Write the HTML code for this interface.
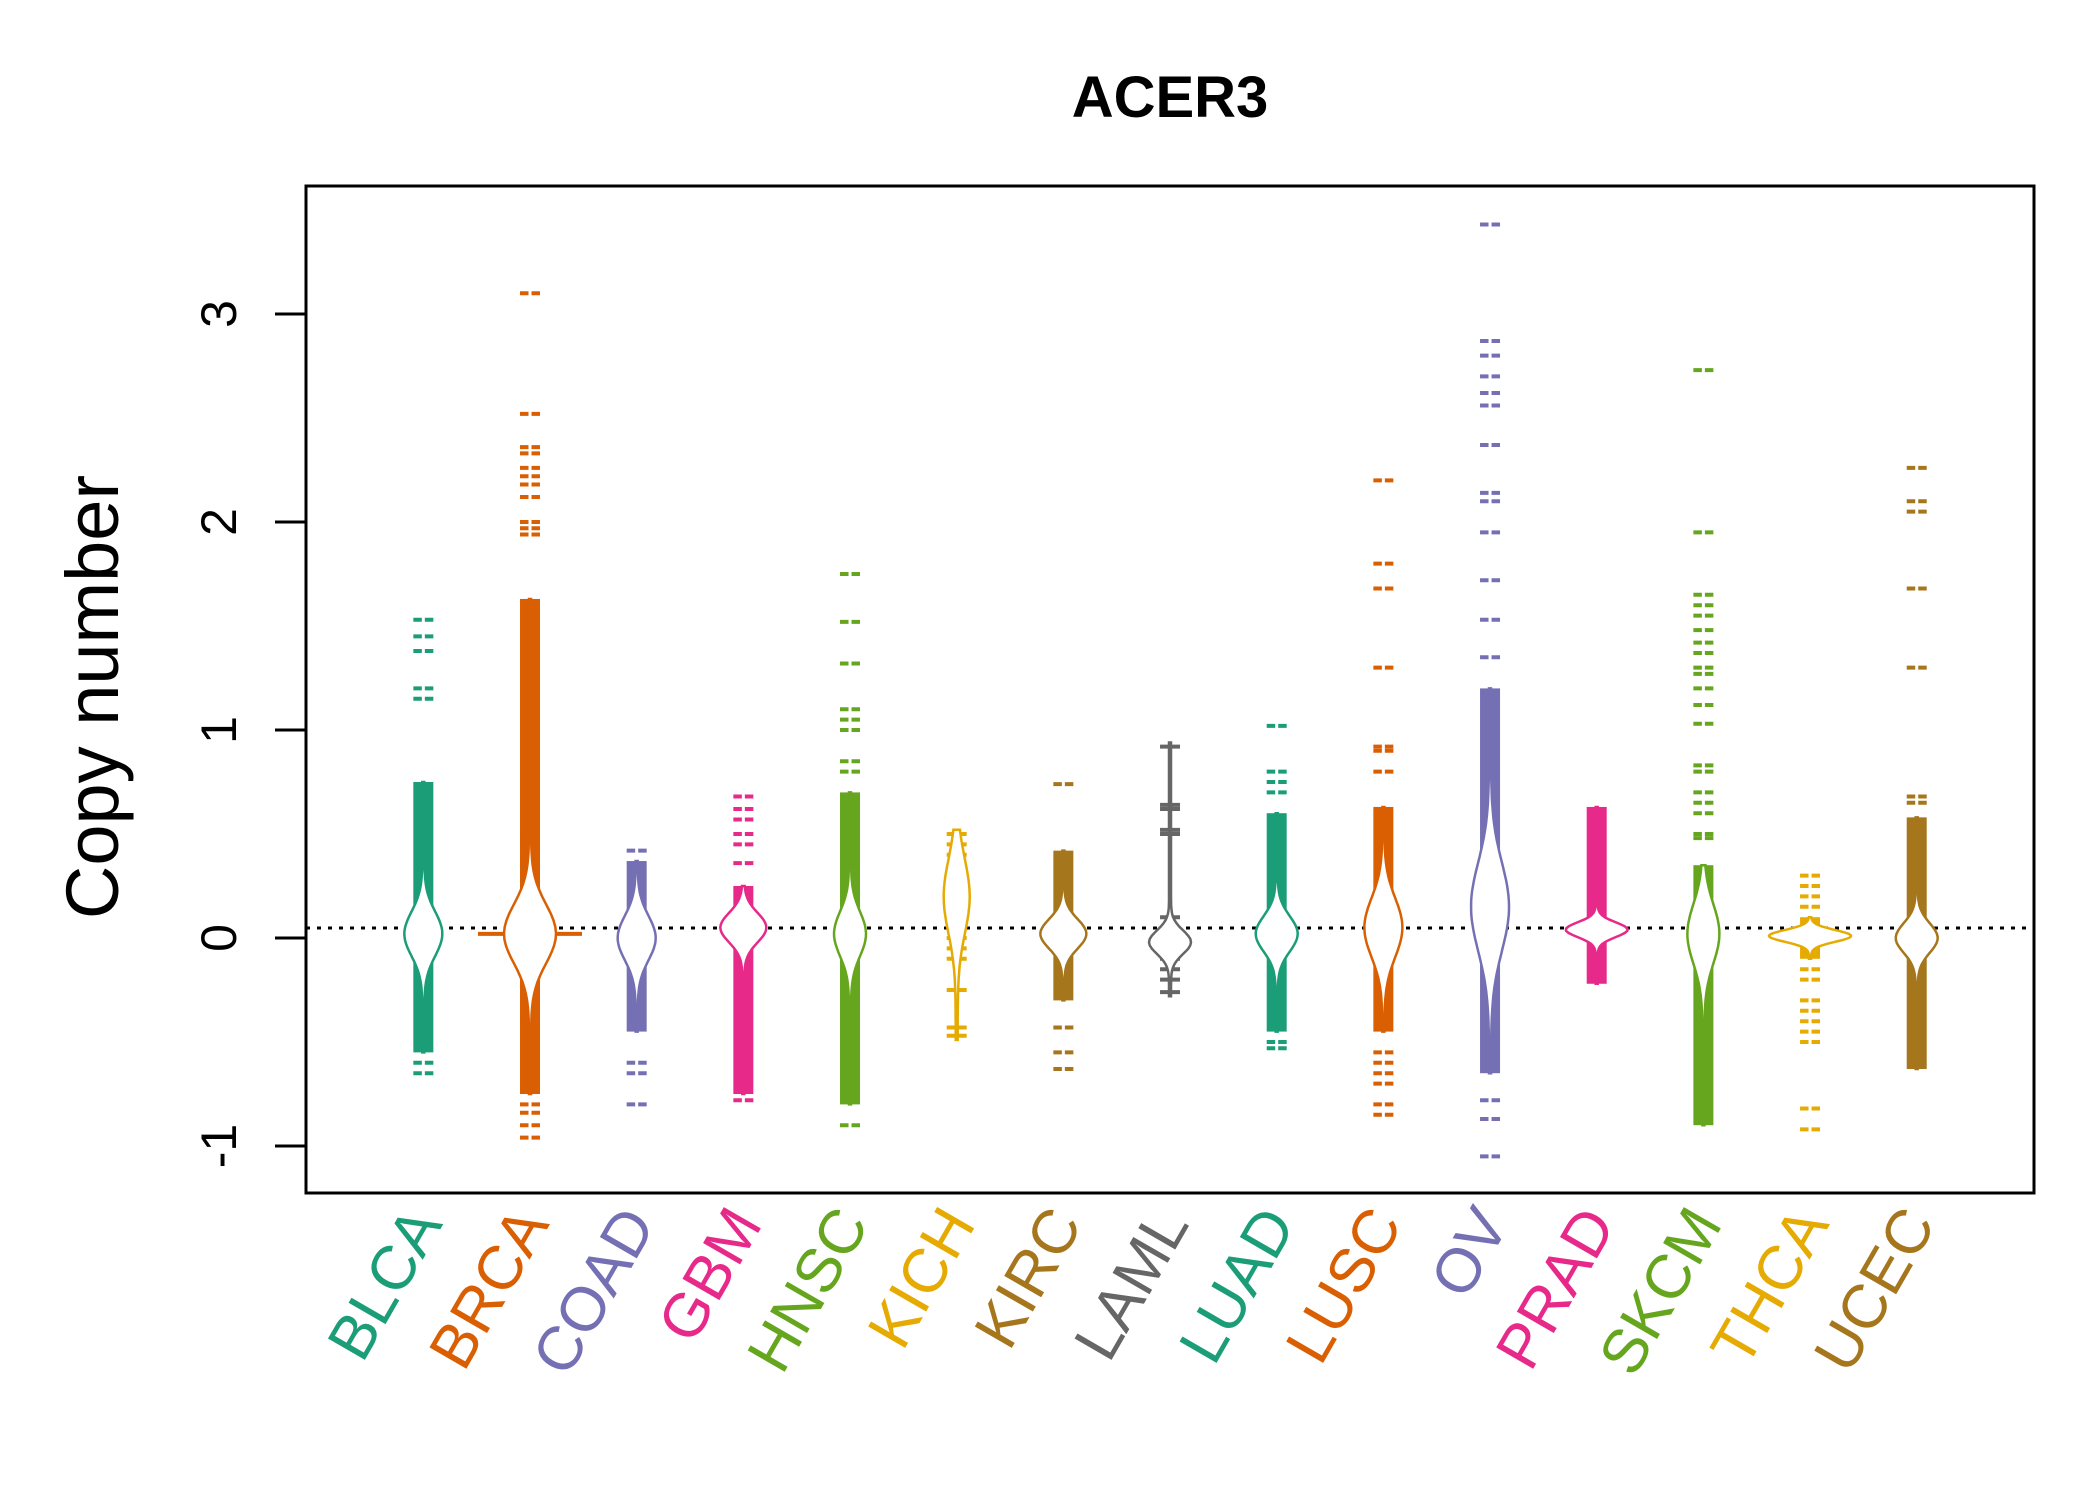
<!DOCTYPE html>
<html><head><meta charset="utf-8"><style>
html,body{margin:0;padding:0;background:#fff;}
svg{display:block;}
text{font-family:"Liberation Sans",Arial,sans-serif;}
</style></head><body>
<svg id="chart" width="2100" height="1500" viewBox="0 0 2100 1500">
<text x="1170" y="117" font-size="58" font-weight="bold" text-anchor="middle">ACER3</text>
<text transform="translate(118,697) rotate(-90)" font-size="74" text-anchor="middle">Copy number</text>
<g id="plot"></g>
<rect x="306" y="186" width="1728" height="1007" fill="none" stroke="#000" stroke-width="3"/>
</svg>
<script>
const categories = ["BLCA","BRCA","COAD","GBM","HNSC","KICH","KIRC","LAML","LUAD","LUSC","OV","PRAD","SKCM","THCA","UCEC"];
const colors = ["#1B9E77","#D95F02","#7570B3","#E7298A","#66A61E","#E6AB02","#A6761D","#666666","#1B9E77","#D95F02","#7570B3","#E7298A","#66A61E","#E6AB02","#A6761D"];
const bandLo = [-0.55,-0.75,-0.45,-0.75,-0.80,0,-0.30,0,-0.45,-0.45,-0.65,-0.22,-0.90,-0.10,-0.63];
const bandHi = [0.75,1.63,0.37,0.25,0.70,0,0.42,0,0.60,0.63,1.20,0.63,0.35,0.10,0.58];
const centers = [0.02,0.02,0.0,0.05,0.02,0.2,0.02,-0.02,0.02,0.05,0.15,0.04,0.02,0.01,0.0];
const spreads = [0.15,0.2,0.15,0.1,0.15,0.25,0.1,0.08,0.12,0.2,0.3,0.05,0.2,0.04,0.1];
const maxWidths = [18,25,18,22,15,12,22,20,20,18,18,30,15,40,20];
const medianLines = [0,52,0,0,0,0,0,0,0,0,0,0,0,0,0];
const points = [
 [1.53,1.45,1.38,1.2,1.15,-0.6,-0.65],
 [3.1,2.52,2.36,2.33,2.26,2.22,2.18,2.12,2.0,1.97,1.94,-0.8,-0.84,-0.9,-0.96],
 [0.42,-0.6,-0.65,-0.8],
 [0.68,0.62,0.57,0.5,0.45,0.36,-0.78],
 [1.75,1.52,1.32,1.1,1.05,1.0,0.85,0.8,-0.9],
 [0.5,0.45,0.4,0.3,0.15,0.1,0.05,0.0,-0.05,-0.1,-0.25,-0.43,-0.47],
 [0.74,-0.43,-0.55,-0.63],
 [0.92,0.64,0.62,0.52,0.5,0.1,0.05,-0.1,-0.15,-0.2,-0.26],
 [1.02,0.8,0.75,0.7,-0.5,-0.53],
 [2.2,1.8,1.68,1.3,0.92,0.9,0.8,-0.55,-0.6,-0.65,-0.7,-0.8,-0.85],
 [3.43,2.87,2.8,2.7,2.62,2.56,2.37,2.14,2.1,1.95,1.72,1.53,1.35,-0.78,-0.87,-1.05],
 [],
 [2.73,1.95,1.65,1.6,1.55,1.48,1.42,1.37,1.3,1.27,1.2,1.12,1.03,0.83,0.8,0.7,0.65,0.6,0.5,0.48],
 [0.3,0.25,0.2,0.15,-0.15,-0.2,-0.3,-0.35,-0.4,-0.45,-0.5,-0.82,-0.92],
 [2.26,2.1,2.05,1.68,1.3,0.68,0.65]
];
const yTicks = [-1,0,1,2,3];
const refLine = 0.048;

const NS="http://www.w3.org/2000/svg";
const plot=document.getElementById('plot');
function X(i){return 306+(i+1.1)*106.67;}
function Y(v){return 938-208*v;}
function mk(tag,attrs){const e=document.createElementNS(NS,tag);for(const k in attrs)e.setAttribute(k,attrs[k]);plot.appendChild(e);return e;}

yTicks.forEach(t=>{
  const l=mk('line',{x1:275,x2:306,y1:Y(t),y2:Y(t),stroke:'#000','stroke-width':3});
  
  
  const tx=mk('text',{transform:`translate(236,${Y(t)}) rotate(-90)`,'font-size':50,'text-anchor':'middle'});
  tx.textContent=String(t);
  
  
});
const rl=mk('line',{x1:306,x2:2034,y1:Y(refLine),y2:Y(refLine),stroke:'#000','stroke-width':3,'stroke-dasharray':'4 7'});



categories.forEach((c,i)=>{
  const cx=X(i), col=colors[i];
  const g=document.createElementNS(NS,'g');plot.appendChild(g);
  
  
  function add(tag,attrs){const e=document.createElementNS(NS,tag);for(const k in attrs)e.setAttribute(k,attrs[k]);g.appendChild(e);return e;}
  const hasBand=bandHi[i]>bandLo[i];
  if(hasBand){
    const r=add('rect',{x:cx-10,y:Y(bandHi[i]),width:20,height:Y(bandLo[i])-Y(bandHi[i]),fill:col});
    
    
  }
  points[i].forEach(v=>{
    const p=add('path',{d:`M${cx-10},${Y(v)}H${cx-1.5}M${cx+1.5},${Y(v)}H${cx+10}`,stroke:col,'stroke-width':4});
    
    
  });
  if(medianLines[i]>0){
    const m=add('line',{x1:cx-medianLines[i],x2:cx+medianLines[i],y1:Y(centers[i]),y2:Y(centers[i]),stroke:col,'stroke-width':4});
    
    
  }
  let lo,hi;
  if(hasBand){lo=bandLo[i];hi=bandHi[i];}
  else{lo=Math.min(...points[i])-0.02;hi=Math.max(...points[i])+0.02;}
  const right=[],left=[];
  for(let k=0;k<=80;k++){
    const v=lo+(hi-lo)*k/80;
    const z=(v-centers[i])/spreads[i];
    const w=1+maxWidths[i]*Math.exp(-z*z);
    right.push(`${(cx+w).toFixed(1)},${Y(v).toFixed(1)}`);
    left.unshift(`${(cx-w).toFixed(1)},${Y(v).toFixed(1)}`);
  }
  const vp=add('polygon',{points:right.concat(left).join(' '),fill:'#fff',stroke:col,'stroke-width':2.5});
  
  
  const t=mk('text',{transform:`translate(${cx+20},1224) rotate(-60)`,'font-size':62,'text-anchor':'end',fill:col});
  t.textContent=c;
  
  
});
</script>
</body></html>
